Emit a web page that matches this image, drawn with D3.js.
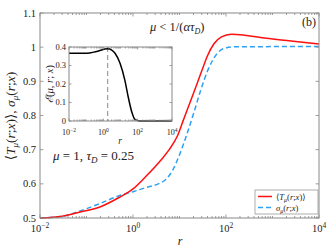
<!DOCTYPE html>
<html>
<head>
<meta charset="utf-8">
<style>
body{margin:0;background:#fff;}
svg text{font-family:"Liberation Serif","DejaVu Serif",serif;fill:#222;}
.frame{fill:none;stroke:#888;stroke-width:1;}
.tk{stroke:#888;stroke-width:0.8;}
</style>
</head>
<body>
<script src="https://cdn.jsdelivr.net/npm/d3@7"></script>
<script>
// main curves
var rT   = [0.01,0.03,0.07,0.2,0.5,1,2,4,6,9,12,20,30,40,55,80,130,250,550,2500,10000];
var valT = [0.500,0.505,0.517,0.533,0.560,0.585,0.625,0.670,0.700,0.740,0.785,0.865,0.930,0.975,1.010,1.030,1.038,1.035,1.028,1.018,1.009];
var rS   = [0.01,0.03,0.07,0.2,0.5,1,2,3.5,5,7,10,14,20,28,40,50,65,90,150,10000];
var valS = [0.500,0.505,0.520,0.543,0.565,0.577,0.590,0.600,0.612,0.638,0.685,0.740,0.805,0.870,0.930,0.958,0.982,0.996,1.001,1.002];
// inset curve
var rE   = [0.01,0.107,0.41,1.8,3.1,4.8,9.4,18,28,45,69,135,10000];
var valE = [0.366,0.366,0.376,0.390,0.383,0.366,0.312,0.220,0.131,0.050,0.009,0,0];
var rPeak = 1.8;

var yTicks = [0.5,0.6,0.7,0.8,0.9,1,1.1];
var xExps = [-2,0,2,4];
var eTicks = [0,0.1,0.2,0.3,0.4];

var W = 332, H = 249;
var svg = d3.select("body").append("svg").attr("width",W).attr("height",H);

var x = d3.scaleLog().domain([1e-2,1e4]).range([40,319]);
var y = d3.scaleLinear().domain([0.5,1.1]).range([218,13]);

var minors = [];
for (var k=-2;k<4;k++) for (var m=1;m<10;m++) minors.push(m*Math.pow(10,k));
minors.push(1e4);

function logAxis(g, sc, yb, yt, tl, majorLen){
  minors.forEach(function(v){
    var isMaj = Math.abs(Math.log10(v)-Math.round(Math.log10(v)))<1e-9 && Math.round(Math.log10(v))%2===0;
    var l = isMaj ? majorLen : tl;
    g.append("line").attr("class","tk").attr("x1",sc(v)).attr("x2",sc(v)).attr("y1",yb).attr("y2",yb-l);
    g.append("line").attr("class","tk").attr("x1",sc(v)).attr("x2",sc(v)).attr("y1",yt).attr("y2",yt+l);
  });
}

// main curves
var lineT = d3.line().x(function(d){return x(d[0]);}).y(function(d){return y(d[1]);}).curve(d3.curveMonotoneX);
svg.append("path").datum(d3.zip(rS,valS)).attr("d",lineT)
  .attr("fill","none").attr("stroke","#2ea2f2").attr("stroke-width",1.5).attr("stroke-dasharray","5,3");
svg.append("path").datum(d3.zip(rT,valT)).attr("d",lineT)
  .attr("fill","none").attr("stroke","#ff1010").attr("stroke-width",1.5);

// main frame + ticks
var ga = svg.append("g");
logAxis(ga, x, 218, 13, 2, 3.5);
yTicks.forEach(function(v){
  ga.append("line").attr("class","tk").attr("x1",40).attr("x2",43.5).attr("y1",y(v)).attr("y2",y(v));
  ga.append("line").attr("class","tk").attr("x1",319).attr("x2",315.5).attr("y1",y(v)).attr("y2",y(v));
  ga.append("text").attr("x",36).attr("y",y(v)+3.5).attr("text-anchor","end").attr("font-size",10.5).text(d3.format("")(v));
});
ga.append("rect").attr("class","frame").attr("x",40).attr("y",13).attr("width",279).attr("height",205);
xExps.forEach(function(e){
  var t = ga.append("text").attr("x",x(Math.pow(10,e))).attr("y",232).attr("text-anchor","middle").attr("font-size",10.5);
  t.append("tspan").text("10");
  t.append("tspan").attr("dy",-4).attr("font-size",7.5).text(e<0?"\u2212"+(-e):e);
});
svg.append("text").attr("x",180).attr("y",245).attr("text-anchor","middle").attr("font-size",12).attr("font-style","italic").text("r");

// y label
var yl = svg.append("text").attr("transform","translate(15,116) rotate(-90)").attr("text-anchor","middle").attr("font-size",13.5);
yl.append("tspan").text("\u27E8");
yl.append("tspan").attr("font-style","italic").text("T");
yl.append("tspan").attr("font-style","italic").attr("font-size",9).attr("dy",3).text("\u03BC");
yl.append("tspan").attr("dy",-3).text("(");
yl.append("tspan").attr("font-style","italic").text("r");
yl.append("tspan").text(";");
yl.append("tspan").attr("font-style","italic").text("x");
yl.append("tspan").text(")\u27E9, ");
yl.append("tspan").attr("font-style","italic").text("\u03C3");
yl.append("tspan").attr("font-style","italic").attr("font-size",9).attr("dy",3).text("\u03BC");
yl.append("tspan").attr("dy",-3).text("(");
yl.append("tspan").attr("font-style","italic").text("r");
yl.append("tspan").text(";");
yl.append("tspan").attr("font-style","italic").text("x");
yl.append("tspan").text(")");

// annotations
var a1 = svg.append("text").attr("x",150).attr("y",31).attr("font-size",12.5);
a1.append("tspan").attr("font-style","italic").text("\u03BC");
a1.append("tspan").text(" < 1/(");
a1.append("tspan").attr("font-style","italic").text("\u03B1\u03C4");
a1.append("tspan").attr("font-style","italic").attr("font-size",8).attr("dy",3).text("D");
a1.append("tspan").attr("dy",-3).text(")");
svg.append("text").attr("x",316).attr("y",26).attr("text-anchor","end").attr("font-size",12).text("(b)");

var a2 = svg.append("text").attr("x",53).attr("y",160).attr("font-size",13);
a2.append("tspan").attr("font-style","italic").text("\u03BC");
a2.append("tspan").text(" = 1, ");
a2.append("tspan").attr("font-style","italic").text("\u03C4");
a2.append("tspan").attr("font-style","italic").attr("font-size",9).attr("dy",3).text("D");
a2.append("tspan").attr("dy",-3).text(" = 0.25");

// legend
var lg = svg.append("g");
lg.append("rect").attr("x",255).attr("y",190).attr("width",63).attr("height",24).attr("fill","#fff").attr("stroke","#999").attr("stroke-width",0.8);
lg.append("line").attr("x1",258).attr("x2",272).attr("y1",196.5).attr("y2",196.5).attr("stroke","#ff1010").attr("stroke-width",1.5);
lg.append("line").attr("x1",258).attr("x2",272).attr("y1",207.5).attr("y2",207.5).attr("stroke","#2ea2f2").attr("stroke-width",1.5).attr("stroke-dasharray","5,3");
var l1 = lg.append("text").attr("x",276).attr("y",199.5).attr("font-size",8.5);
l1.append("tspan").text("\u27E8");
l1.append("tspan").attr("font-style","italic").text("T");
l1.append("tspan").attr("font-style","italic").attr("font-size",6).attr("dy",2).text("\u03BC");
l1.append("tspan").attr("dy",-2).text("(");
l1.append("tspan").attr("font-style","italic").text("r");
l1.append("tspan").text(";");
l1.append("tspan").attr("font-style","italic").text("x");
l1.append("tspan").text(")\u27E9");
var l2 = lg.append("text").attr("x",276).attr("y",210.5).attr("font-size",8.5);
l2.append("tspan").attr("font-style","italic").text("\u03C3");
l2.append("tspan").attr("font-style","italic").attr("font-size",6).attr("dy",2).text("\u03BC");
l2.append("tspan").attr("dy",-2).text("(");
l2.append("tspan").attr("font-style","italic").text("r");
l2.append("tspan").text(";");
l2.append("tspan").attr("font-style","italic").text("x");
l2.append("tspan").text(")");

// inset
var xi = d3.scaleLog().domain([1e-2,1e4]).range([69,172]);
var yi = d3.scaleLinear().domain([0,0.4]).range([121,47]);
var gi = svg.append("g");
gi.append("rect").attr("x",69).attr("y",47).attr("width",103).attr("height",74).attr("fill","#fff");
gi.append("line").attr("x1",xi(rPeak)).attr("x2",xi(rPeak)).attr("y1",47).attr("y2",121)
  .attr("stroke","#888").attr("stroke-width",1).attr("stroke-dasharray","5,3");
var lineE = d3.line().x(function(d){return xi(d[0]);}).y(function(d){return yi(d[1]);}).curve(d3.curveMonotoneX);
gi.append("path").datum(d3.zip(rE,valE)).attr("d",lineE).attr("fill","none").attr("stroke","#000").attr("stroke-width",1.5);
logAxis(gi, xi, 121, 47, 1.5, 2.5);
eTicks.forEach(function(v){
  gi.append("line").attr("class","tk").attr("x1",69).attr("x2",71.5).attr("y1",yi(v)).attr("y2",yi(v));
  gi.append("line").attr("class","tk").attr("x1",172).attr("x2",169.5).attr("y1",yi(v)).attr("y2",yi(v));
  gi.append("text").attr("x",66).attr("y",yi(v)+2.5).attr("text-anchor","end").attr("font-size",8.5).text(d3.format("")(v));
});
gi.append("rect").attr("class","frame").attr("x",69).attr("y",47).attr("width",103).attr("height",74);
xExps.forEach(function(e){
  var t = gi.append("text").attr("x",xi(Math.pow(10,e))).attr("y",134.5).attr("text-anchor","middle").attr("font-size",8);
  t.append("tspan").text("10");
  t.append("tspan").attr("dy",-3).attr("font-size",5.5).text(e<0?"\u2212"+(-e):e);
});
gi.append("text").attr("x",120).attr("y",144).attr("text-anchor","middle").attr("font-size",9.5).attr("font-style","italic").text("r");
var el = gi.append("text").attr("transform","translate(53,84) rotate(-90)").attr("text-anchor","middle").attr("font-size",10.5);
el.append("tspan").attr("font-style","italic").text("\u2130");
el.append("tspan").text("(");
el.append("tspan").attr("font-style","italic").text("\u03BC");
el.append("tspan").text(", ");
el.append("tspan").attr("font-style","italic").text("r");
el.append("tspan").text("; ");
el.append("tspan").attr("font-style","italic").text("x");
el.append("tspan").text(")");
</script>
</body>
</html>
